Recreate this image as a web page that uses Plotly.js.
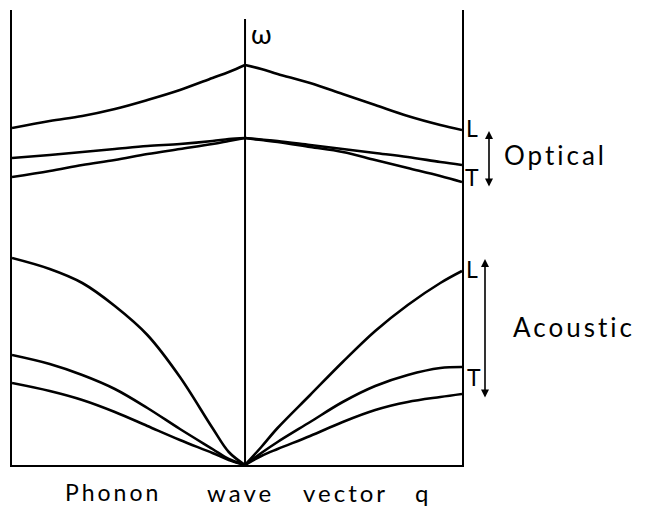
<!DOCTYPE html>
<html>
<head>
<meta charset="utf-8">
<script src="https://cdn.plot.ly/plotly-3.0.1.min.js"></script>
<style>
  html, body { margin: 0; padding: 0; background: #fff; }
  #chart { width: 646px; height: 508px; }
  .annotation-text { letter-spacing: 3px; }
</style>
</head>
<body>
<div id="chart"></div>
<script>
// Phonon dispersion: q runs from the zone boundary on the left (one crystal
// direction) through q = 0 to the zone boundary on the right (another direction).
const qLeft  = [-1.074, -0.9, -0.75, -0.6, -0.45, -0.3, -0.15, -0.075, 0];
const qRight = [0, 0.075, 0.15, 0.3, 0.45, 0.6, 0.75, 0.9, 1.0];

// Optical branches (frequency, arbitrary units)
const opticalL_left  = [3.37, 3.44, 3.49, 3.56, 3.65, 3.75, 3.87, 3.93, 4.00];
const opticalT1_left = [3.07, 3.10, 3.13, 3.16, 3.19, 3.21, 3.24, 3.26, 3.27];
const opticalT2_left = [2.88, 2.94, 3.00, 3.05, 3.11, 3.16, 3.21, 3.24, 3.27];
const opticalL_right  = [4.00, 3.96, 3.91, 3.82, 3.71, 3.60, 3.49, 3.40, 3.35];
const opticalT1_right = [3.27, 3.255, 3.24, 3.20, 3.16, 3.12, 3.08, 3.03, 3.00];
const opticalT2_right = [3.27, 3.25, 3.23, 3.18, 3.13, 3.05, 2.97, 2.89, 2.83];

// Acoustic branches
const acousticL_left  = [2.07, 1.96, 1.82, 1.59, 1.30, 0.88, 0.37, 0.13, 0];
const acousticT1_left = [1.10, 1.01, 0.90, 0.76, 0.57, 0.36, 0.16, 0.06, 0];
const acousticT2_left = [0.82, 0.74, 0.65, 0.53, 0.39, 0.25, 0.12, 0.05, 0];
const acousticL_right  = [0, 0.18, 0.37, 0.70, 1.03, 1.34, 1.60, 1.82, 1.94];
const acousticT1_right = [0, 0.12, 0.23, 0.43, 0.63, 0.79, 0.90, 0.97, 0.98];
const acousticT2_right = [0, 0.09, 0.16, 0.29, 0.43, 0.55, 0.63, 0.68, 0.71];

const omegaTop = 4.55;      // top of the frame
const omegaAxisTop = 4.46;  // top of the central ω axis

const branches = [
  [qLeft, opticalL_left], [qLeft, opticalT1_left], [qLeft, opticalT2_left],
  [qRight, opticalL_right], [qRight, opticalT1_right], [qRight, opticalT2_right],
  [qLeft, acousticL_left], [qLeft, acousticT1_left], [qLeft, acousticT2_left],
  [qRight, acousticL_right], [qRight, acousticT1_right], [qRight, acousticT2_right]
];

const traces = branches.map(([q, w]) => ({
  x: q, y: w, type: 'scatter', mode: 'lines',
  line: { color: '#000', width: 2.6, shape: 'spline', smoothing: 1 },
  hoverinfo: 'skip', showlegend: false
}));

// plot area in pixels: x 12..462, y 10..465
const L = 12, R = 462, T = 10, B = 465;
const px = x => (x - L) / (R - L);
const py = y => (B - y) / (B - T);

const font = { family: 'Lato, "Open Sans", sans-serif', color: '#000' };
const label = (text, x, y, size) => ({
  xref: 'paper', yref: 'paper', x: px(x), y: py(y), text: text,
  showarrow: false, xanchor: 'center', yanchor: 'middle',
  font: Object.assign({}, font, { size: size })
});
const doubleArrow = (x, yTop, yBottom) => ({
  xref: 'paper', yref: 'paper', x: px(x), y: py(yTop), text: '',
  showarrow: true, arrowside: 'end+start', arrowhead: 2, startarrowhead: 2,
  arrowsize: 1, startarrowsize: 1, arrowwidth: 1.6, arrowcolor: '#000',
  ax: 0, ay: yBottom - yTop, standoff: 0, startstandoff: 0
});

const layout = {
  width: 646, height: 508,
  margin: { l: L, r: 646 - R, t: T, b: 508 - B, pad: 0 },
  paper_bgcolor: '#fff', plot_bgcolor: '#fff',
  showlegend: false,
  xaxis: {
    range: [qLeft[0], qRight[qRight.length - 1]],
    showline: true, linecolor: '#000', linewidth: 2,
    showgrid: false, zeroline: false, showticklabels: false, ticks: ''
  },
  yaxis: {
    range: [0, omegaTop],
    showline: true, mirror: true, linecolor: '#000', linewidth: 2,
    showgrid: false, zeroline: false, showticklabels: false, ticks: ''
  },
  shapes: [{
    type: 'line', xref: 'x', yref: 'y', x0: 0, x1: 0, y0: 0, y1: omegaAxisTop,
    line: { color: '#000', width: 2 }
  }],
  annotations: [
    label('ω', 263, 33, 27),
    label('L', 473, 128, 23),
    label('T', 473, 177, 23),
    doubleArrow(489, 131, 188),
    label('Optical', 555, 155, 26),
    label('L', 473, 269, 23),
    label('T', 475, 377, 23),
    doubleArrow(485, 259, 399),
    label('Acoustic', 574, 327, 26),
    label('Phonon', 113, 492, 23),
    label('wave', 240, 492, 24),
    label('vector', 345, 492, 24),
    label('q', 423, 492, 24)
  ]
};

Plotly.newPlot('chart', traces, layout, { staticPlot: true, displayModeBar: false });
</script>
</body>
</html>
